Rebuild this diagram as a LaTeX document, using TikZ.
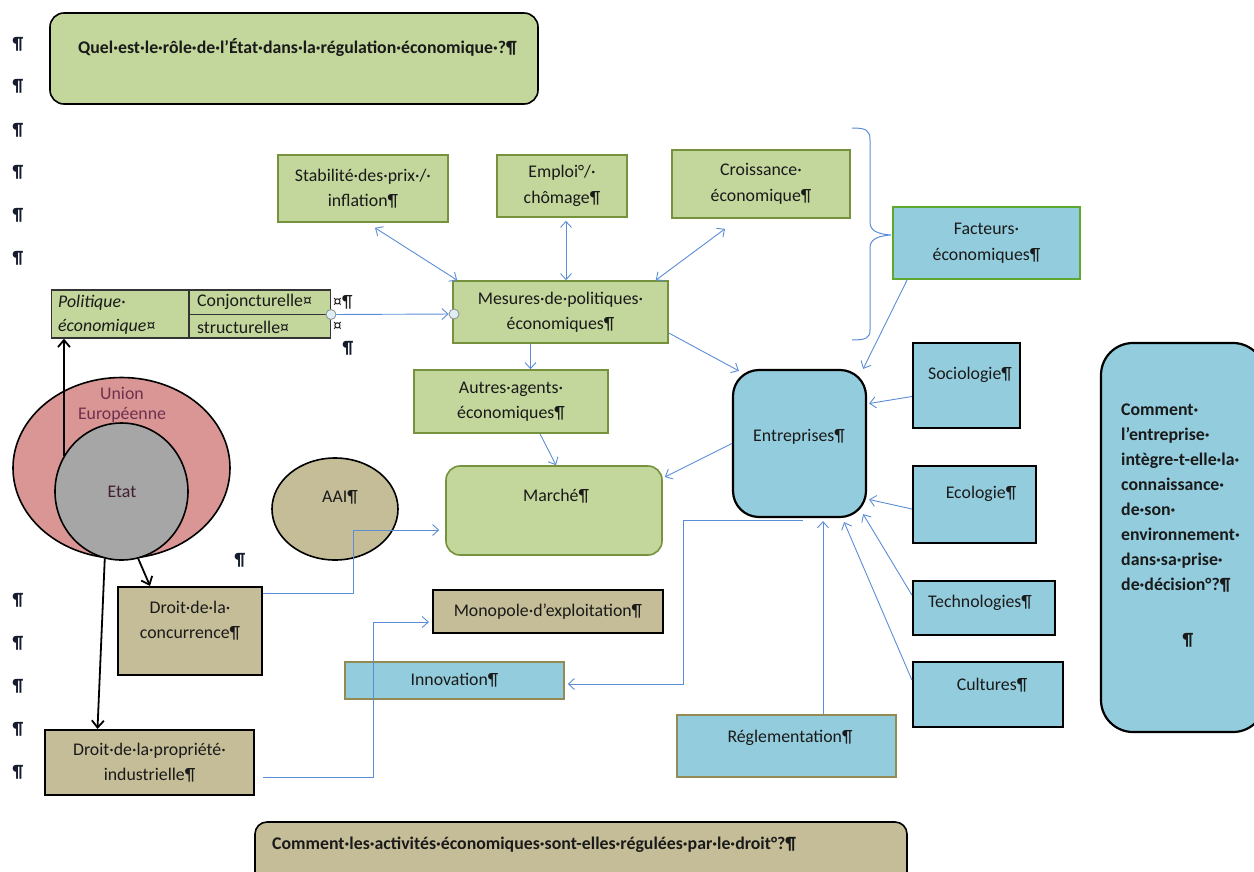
\documentclass[tikz,border=0pt]{standalone}
\usepackage{fontspec}
\setmainfont{Carlito}
\usetikzlibrary{arrows.meta,shapes.geometric}
\definecolor{gfill}{HTML}{C3D69B}
\definecolor{gline}{HTML}{76923C}
\definecolor{bfill}{HTML}{93CDDD}
\definecolor{tfill}{HTML}{C4BD97}
\definecolor{tline}{HTML}{948A54}
\definecolor{pfill}{HTML}{D99694}
\definecolor{grfill}{HTML}{A6A6A6}
\definecolor{conn}{HTML}{5B8DD6}
\definecolor{pil}{HTML}{141C2E}
\definecolor{txtc}{HTML}{1A1A1A}
\definecolor{uec}{HTML}{6F3050}
\definecolor{handle}{HTML}{DDEEF5}
\newcommand\fs{\fontsize{17.8}{25.5}\selectfont}
\tikzset{
  bx/.style={draw, rectangle, inner sep=0pt, align=center, text=txtc},
  gbox/.style={bx, fill=gfill, draw=gline, line width=1.6pt},
  bbox/.style={bx, fill=bfill, draw=black, line width=2.2pt},
  bgbox/.style={bx, fill=bfill, draw=gline!80!green, line width=1.6pt},
  btbox/.style={bx, fill=bfill, draw=tline, line width=1.6pt},
  tbox/.style={bx, fill=tfill, draw=black, line width=2.2pt},
  txt/.style={inner sep=0pt, text=txtc, align=center},
  pilcrow/.style={inner sep=0pt, text=pil, font=\fs\bfseries},
  cn/.style={draw=conn, line width=0.9pt, -{Straight Barb[length=6pt,width=11pt]}},
  cnn/.style={draw=conn, line width=0.9pt, {Straight Barb[length=6pt,width=11pt]}-{Straight Barb[length=6pt,width=11pt]}},
  blk/.style={draw=black, line width=1.8pt, -{Straight Barb[length=7pt,width=12pt]}},
}
\begin{document}
\begin{tikzpicture}[x=1pt,y=-1pt,font=\fs]
\useasboundingbox (0,0) rectangle (1254,871);

% pilcrows on the left margin
\foreach \yy [count=\i] in {44,86,130,172,215,258,600,643,686,729,772}
  \node[pilcrow] (p\i) at (18,\yy) {¶};

% title
\node[draw=black, line width=1.6pt, fill=gfill, rounded corners=14pt, minimum width=488pt, minimum height=91pt, inner sep=0pt] (title) at (294,58.5) {};
\node[txt, anchor=west, font=\fs\bfseries] (titlet) at (78,48) {Quel·est·le·rôle·de·l’État·dans·la·régulation·économique·?¶};

% objectives
\node[gbox, minimum width=170pt, minimum height=67pt] (stab) at (363,188.5) {Stabilité·des·prix·/·\\inflation¶};
\node[gbox, minimum width=130pt, minimum height=62pt] (emploi) at (562,186) {Emploi°/·\\chômage¶};
\node[gbox, minimum width=178pt, minimum height=68pt] (crois) at (761,184) {Croissance·\\économique¶};

% brace
\draw[conn, line width=1pt] (852,128) .. controls (866,128) and (870,130) .. (870,140)
  -- (870,222) .. controls (870,230) and (876,234) .. (891,235)
  .. controls (876,236) and (870,240) .. (870,248)
  -- (870,330) .. controls (870,338) and (866,340) .. (852,340);

\node[bgbox, minimum width=187pt, minimum height=72pt] (fact) at (986.5,243) {Facteurs·\\économiques¶};

% mesures
\node[gbox, minimum width=215pt, minimum height=62pt] (mes) at (560.5,312) {Mesures·de·politiques·\\économiques¶};

% table politique economique
\node[draw=black!80, line width=1.4pt, fill=gfill, minimum width=279pt, minimum height=48pt, inner sep=0pt] (pol) at (191,314) {};
\draw[black!80, line width=1.4pt] (189,290) -- (189,338);
\draw[black!80, line width=1.4pt] (189,314.5) -- (330.5,314.5);
\node[txt, anchor=west, align=left, font=\fontsize{17.8}{24}\selectfont\itshape] (polt) at (58,315) {Politique·\\économique¤};
\node[txt, anchor=west] (conj) at (197,302) {Conjoncturelle¤};
\node[txt, anchor=west] (struct) at (197,327) {structurelle¤};
\node[txt, anchor=west] (m1) at (333,302) {¤¶};
\node[txt, anchor=west] (m2) at (333,327) {¤};
\node[pilcrow] (m3) at (348,348) {¶};
\node[circle, draw=black!45, fill=handle, line width=0.8pt, minimum size=10pt, inner sep=0pt] (h1) at (331,314.5) {};
\node[circle, draw=black!45, fill=handle, line width=0.8pt, minimum size=10pt, inner sep=0pt] (h2) at (454,314) {};

% autres, marche
\node[gbox, minimum width=194pt, minimum height=63pt] (autres) at (511,401.5) {Autres·agents·\\économiques¶};
\node[gbox, rounded corners=14pt, minimum width=216pt, minimum height=89pt] (marche) at (554,510.5) {};
\node[txt] (marchet) at (556,496) {Marché¶};

% entreprises
\node[bbox, rounded corners=26pt, minimum width=133pt, minimum height=147pt] (entr) at (799.5,443.5) {};
\node[txt] (entrt) at (799,437) {Entreprises¶};

% environment boxes
\node[bbox, minimum width=107pt, minimum height=85pt] (socio) at (966.5,385.5) {};
\node[txt] (sociot) at (970,375) {Sociologie¶};
\node[bbox, minimum width=123pt, minimum height=77pt] (eco) at (974.5,504.5) {};
\node[txt] (ecot) at (981,494) {Ecologie¶};
\node[bbox, minimum width=142pt, minimum height=54pt] (techno) at (984,608) {};
\node[txt] (technot) at (980,603) {Technologies¶};
\node[bbox, minimum width=150pt, minimum height=65pt] (cult) at (988,694.5) {};
\node[txt] (cultt) at (992,685) {Cultures¶};

% right question
\node[bbox, rounded corners=32pt, minimum width=164pt, minimum height=389pt] (rq) at (1183,537.5) {};
\node[txt, anchor=north west, align=left, font=\fontsize{17.8}{25}\selectfont\bfseries] (rqt) at (1121,404) {Comment·\\l’entreprise·\\intègre-t-elle·la·\\connaissance·\\de·son·\\environnement·\\dans·sa·prise·\\de·décision°?¶};
\node[txt, font=\fs\bfseries] (rqp) at (1188,640) {¶};

% reglementation
\node[btbox, minimum width=219pt, minimum height=62pt] (regl) at (786.5,746) {};
\node[txt] (reglt) at (790,738) {Réglementation¶};

% ellipses
\node[ellipse, draw=black, line width=1.6pt, fill=pfill, minimum width=217pt, minimum height=181pt, inner sep=0pt] (ue) at (121.5,468) {};
\node[txt, text=uec, font=\fontsize{17.8}{20}\selectfont] (uet) at (122,405) {Union\\Européenne};
\node[ellipse, draw=black, line width=1.6pt, fill=grfill, minimum width=133pt, minimum height=137pt, inner sep=0pt] (etat) at (121.5,491.5) {};
\node[txt, text=uec!60!black] (etatt) at (122,492) {Etat};
\node[ellipse, draw=black, line width=1.6pt, fill=tfill, minimum width=126pt, minimum height=102pt, inner sep=0pt] (aai) at (335,509) {};
\node[txt] (aait) at (340,497) {AAI¶};
\node[pilcrow] (p20) at (240,560) {¶};

% law boxes
\node[tbox, minimum width=144pt, minimum height=88pt] (dconc) at (190,631) {};
\node[txt] (dconct) at (190,620.5) {Droit·de·la·\\concurrence¶};
\node[tbox, minimum width=209pt, minimum height=65pt] (dprop) at (149.5,762.5) {Droit·de·la·propriété·\\industrielle¶};
\node[tbox, minimum width=230pt, minimum height=43pt] (mono) at (548,611.5) {Monopole·d’exploitation¶};
\node[btbox, minimum width=219pt, minimum height=37pt] (innov) at (454.5,680.5) {Innovation¶};

% bottom question
\node[draw=black, line width=1.6pt, fill=tfill, rounded corners=12pt, minimum width=652pt, minimum height=80pt, inner sep=0pt] (bq) at (581,862) {};
\node[txt, anchor=west, font=\fs\bfseries] (bqt) at (272,845) {Comment·les·activités·économiques·sont-elles·régulées·par·le·droit°?¶};

% black connectors
\draw[blk] (etat.148) -- (etat.148 |- pol.south);
\draw[blk] (etat.-76) -- ([xshift=-40pt]dconc.north);
\draw[blk] (etat.-104) -- ([xshift=-52pt]dprop.north);

% blue connectors
\draw[cnn] ([xshift=12pt,yshift=-5pt]stab.south) -- ([xshift=5pt]mes.north west);
\draw[cnn] ([xshift=4pt,yshift=-3pt]emploi.south) -- ([xshift=4pt]emploi.south |- mes.north);
\draw[cnn] ([xshift=-36pt,yshift=-10pt]crois.south) -- ([xshift=-13pt]mes.north east);
\draw[cn] (h1) -- (h2);
\draw[cn] ([xshift=-30pt]mes.south) -- ([xshift=-30pt]mes.south |- autres.north);
\draw[cn] ([xshift=29pt]autres.south) -- ([xshift=2pt]marche.north);
\draw[cn] ([yshift=-21pt]mes.east) -- ([xshift=7pt,yshift=-2pt]entr.north west);
\draw[cn] (entr.west) -- ([yshift=33.5pt,xshift=2pt]marche.east);
\draw[cn] ([xshift=15pt]fact.south west) -- ([xshift=-4pt]entr.north east);
\draw[cn] ([yshift=-11pt]socio.west) -- ([yshift=40pt,xshift=2pt]entr.east);
\draw[cn] ([yshift=-4.5pt]eco.west) -- ([yshift=-56pt,xshift=2pt]entr.east);
\draw[cn] ([yshift=13pt]techno.west) -- ([xshift=-4pt,yshift=4pt]entr.south east);
\draw[cn] ([yshift=14.5pt]cult.west) -- ([xshift=-23pt,yshift=-4pt]entr.south east);
\draw[cn] ([xshift=36.5pt]regl.north) -- ([xshift=36.5pt,yshift=-3pt]regl.north |- entr.south);
\draw[cn] ([xshift=3pt,yshift=-2pt]entr.south) -- ++(-119,0) |- ([xshift=3pt,yshift=-3.5pt]innov.east);
\draw[cn] ([yshift=38pt]dconc.east) -- ++(90,0) |- ([xshift=-6pt,yshift=-19.5pt]marche.west);
\draw[cn] ([xshift=8pt,yshift=-14.5pt]dprop.east) -- ++(110,0) |- ([xshift=-3pt,yshift=-10.5pt]mono.west);
\end{tikzpicture}
\end{document}
